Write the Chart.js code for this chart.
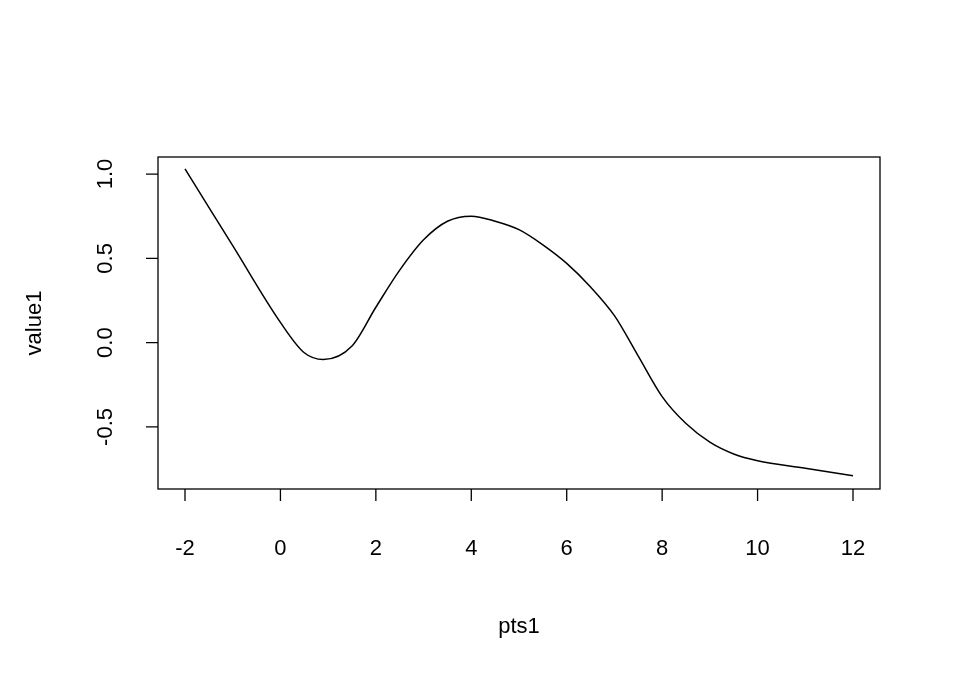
<!DOCTYPE html>
<html>
<head>
<meta charset="utf-8">
<script src="https://cdn.jsdelivr.net/npm/chart.js@4"></script>
<style>
  html, body { margin: 0; padding: 0; background: #fff; }
  #wrap { width: 960px; height: 685px; }
</style>
</head>
<body>
<div id="wrap"><canvas id="c" width="960" height="685"></canvas></div>
<script>
// data
const pts1 = [-2, -1, 0, 0.5, 0.9, 1.5, 2, 2.5, 3, 3.5, 4, 4.5, 5, 5.5, 6, 6.5, 7, 7.5, 8, 8.5, 9, 9.5, 10, 11, 12];
const value1 = [1.03, 0.575, 0.12, -0.06, -0.10, -0.02, 0.21, 0.43, 0.61, 0.72, 0.75, 0.72, 0.67, 0.58, 0.47, 0.33, 0.16, -0.08, -0.32, -0.48, -0.59, -0.66, -0.70, -0.745, -0.79];
const xTicks = [-2, 0, 2, 4, 6, 8, 10, 12];
const yTicks = [-0.5, 0.0, 0.5, 1.0];

const FONT = '22px "Liberation Sans", Arial, sans-serif';

// R-style frame, axes and labels
const rAxes = {
    id: "rAxes",
    afterDraw(chart) {
        const ctx = chart.ctx;
        const a = chart.chartArea;
        const xs = chart.scales.x, ys = chart.scales.y;
        ctx.save();
        ctx.strokeStyle = "#000";
        ctx.lineWidth = 1.3;
        ctx.strokeRect(a.left, a.top, a.right - a.left, a.bottom - a.top);

        ctx.fillStyle = "#000";
        ctx.font = FONT;

        // x axis ticks
        ctx.beginPath();
        ctx.textAlign = "center"; ctx.textBaseline = "middle";
        xTicks.forEach(t => {
            const px = xs.getPixelForValue(t);
            ctx.moveTo(px, a.bottom); ctx.lineTo(px, a.bottom + 12);
            ctx.fillText(String(t), px, 549);
        });
        ctx.stroke();

        // y axis ticks
        ctx.beginPath();
        yTicks.forEach(t => {
            const py = ys.getPixelForValue(t);
            ctx.moveTo(a.left, py); ctx.lineTo(a.left - 12, py);
            ctx.save();
            ctx.translate(106, py);
            ctx.rotate(-Math.PI / 2);
            ctx.fillText(t.toFixed(1), 0, 0);
            ctx.restore();
        });
        ctx.stroke();

        // titles
        ctx.fillText("pts1", (a.left + a.right) / 2, 627);
        ctx.save();
        ctx.translate(35, (a.top + a.bottom) / 2);
        ctx.rotate(-Math.PI / 2);
        ctx.fillText("value1", 0, 0);
        ctx.restore();
        ctx.restore();
    }
};

new Chart(document.getElementById("c"), {
    type: "scatter",
    data: {
        datasets: [{
            data: pts1.map((x, i) => ({ x: x, y: value1[i] })),
            showLine: true,
            borderColor: "#000",
            borderWidth: 1.5,
            pointRadius: 0,
            cubicInterpolationMode: "monotone"
        }]
    },
    options: {
        responsive: false,
        animation: false,
        layout: { padding: { left: 158, right: 80, top: 157, bottom: 196 } },
        plugins: { legend: { display: false }, tooltip: { enabled: false } },
        scales: {
            x: {
                type: "linear", min: -2.566, max: 12.566,
                grid: { display: false }, border: { display: false },
                ticks: { display: false },
                afterFit(s) { s.height = 0; }
            },
            y: {
                type: "linear", min: -0.868, max: 1.101,
                grid: { display: false }, border: { display: false },
                ticks: { display: false },
                afterFit(s) { s.width = 0; }
            }
        }
    },
    plugins: [rAxes]
});
</script>
</body>
</html>
